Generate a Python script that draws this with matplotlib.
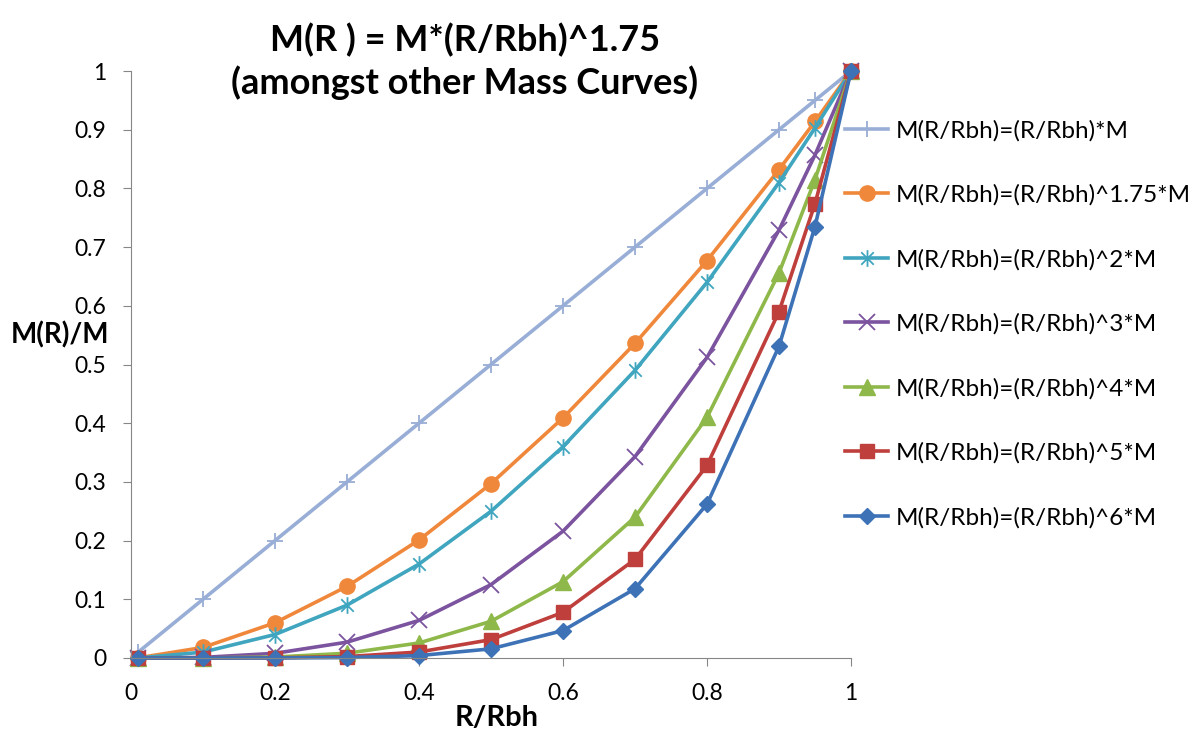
import matplotlib
matplotlib.use("Agg")
import matplotlib.pyplot as plt
from matplotlib.path import Path

# R/Rbh sample points
r = [0.01, 0.1, 0.2, 0.3, 0.4, 0.5, 0.6, 0.7, 0.8, 0.9, 0.95, 1.0]

# M(R)/M for each mass curve
m_lin = [0.01, 0.1, 0.2, 0.3, 0.4, 0.5, 0.6, 0.7, 0.8, 0.9, 0.95, 1.0]
m_175 = [0.0003, 0.018, 0.06, 0.122, 0.201, 0.297, 0.409, 0.536, 0.677, 0.832, 0.914, 1.0]
m_2 = [0.0001, 0.01, 0.04, 0.09, 0.16, 0.25, 0.36, 0.49, 0.64, 0.81, 0.903, 1.0]
m_3 = [0.0, 0.001, 0.008, 0.027, 0.064, 0.125, 0.216, 0.343, 0.512, 0.729, 0.857, 1.0]
m_4 = [0.0, 0.0001, 0.0016, 0.0081, 0.0256, 0.0625, 0.13, 0.24, 0.41, 0.656, 0.815, 1.0]
m_5 = [0.0, 0.0, 0.0003, 0.0024, 0.0102, 0.0313, 0.0778, 0.168, 0.328, 0.59, 0.774, 1.0]
m_6 = [0.0, 0.0, 0.0001, 0.0007, 0.0041, 0.0156, 0.0467, 0.118, 0.262, 0.531, 0.735, 1.0]

labels = ["M(R/Rbh)=(R/Rbh)*M", "M(R/Rbh)=(R/Rbh)^1.75*M", "M(R/Rbh)=(R/Rbh)^2*M",
          "M(R/Rbh)=(R/Rbh)^3*M", "M(R/Rbh)=(R/Rbh)^4*M", "M(R/Rbh)=(R/Rbh)^5*M",
          "M(R/Rbh)=(R/Rbh)^6*M"]

plt.rcParams['font.family'] = ['Lato', 'DejaVu Sans']

# excel style star marker (x with a vertical bar)
star = Path([(0, -1), (0, 1), (-0.75, -0.75), (0.75, 0.75), (-0.75, 0.75), (0.75, -0.75)],
            [Path.MOVETO, Path.LINETO, Path.MOVETO, Path.LINETO, Path.MOVETO, Path.LINETO])

fig = plt.figure(figsize=(11.99, 7.36), dpi=100)
ax = fig.add_axes([131/1199, 1-658/736, 720/1199, 587/736])

lw = 2.6
ax.plot(r, m_lin, color='#98AED6', lw=lw, marker='+', ms=12, mew=1.3, label=labels[0])
ax.plot(r, m_175, color='#F0883C', lw=lw, marker='o', ms=11, label=labels[1])
ax.plot(r, m_2, color='#40A5BE', lw=lw, marker=star, ms=12, mew=1.3, label=labels[2])
ax.plot(r, m_3, color='#7B539E', lw=lw, marker='x', ms=11, mew=1.3, label=labels[3])
ax.plot(r, m_4, color='#8FB84A', lw=lw, marker='^', ms=11, label=labels[4])
ax.plot(r, m_5, color='#BE3F3C', lw=lw, marker='s', ms=10.5, label=labels[5])
ax.plot(r, m_6, color='#3E72B6', lw=lw, marker='D', ms=8.5, label=labels[6])

ax.set_xlim(0, 1)
ax.set_ylim(0, 1)
ax.set_xticks([0, 0.2, 0.4, 0.6, 0.8, 1])
ax.set_xticklabels(["0", "0.2", "0.4", "0.6", "0.8", "1"])
ax.set_yticks([i / 10 for i in range(11)])
ax.set_yticklabels(["0"] + [f"0.{i}" for i in range(1, 10)] + ["1"])
for s in ['top', 'right']:
    ax.spines[s].set_visible(False)
for s in ['left', 'bottom']:
    ax.spines[s].set_color('#868686')
ax.tick_params(colors='#868686', labelcolor='black', labelsize=16.5, length=6, direction='out')
ax.tick_params(axis='y', pad=12)
ax.tick_params(axis='x', pad=12)
for line in ax.get_lines():
    line.set_clip_on(False)

ax.set_xlabel("R/Rbh", fontsize=21, fontweight='bold', va='center')
ax.xaxis.set_label_coords(0.508, -0.102)
ax.set_ylabel("M(R)/M", fontsize=20, fontweight='bold', rotation=0, va='center', ha='center')
ax.yaxis.set_label_coords(-0.099, 0.55)

fig.text(465/1199, 1-40/736, "M(R ) = M*(R/Rbh)^1.75", ha='center', va='center',
         fontsize=26, fontweight='bold')
fig.text(465/1199, 1-83/736, "(amongst other Mass Curves)", ha='center', va='center',
         fontsize=26, fontweight='bold')

ax.legend(loc='upper left', bbox_to_anchor=(835/1199, 1-110/736), bbox_transform=fig.transFigure,
          frameon=False, fontsize=17.5, labelspacing=1.77, handlelength=1.8, handletextpad=0.3,
          borderaxespad=0)

fig.savefig("out.png", dpi=100)
